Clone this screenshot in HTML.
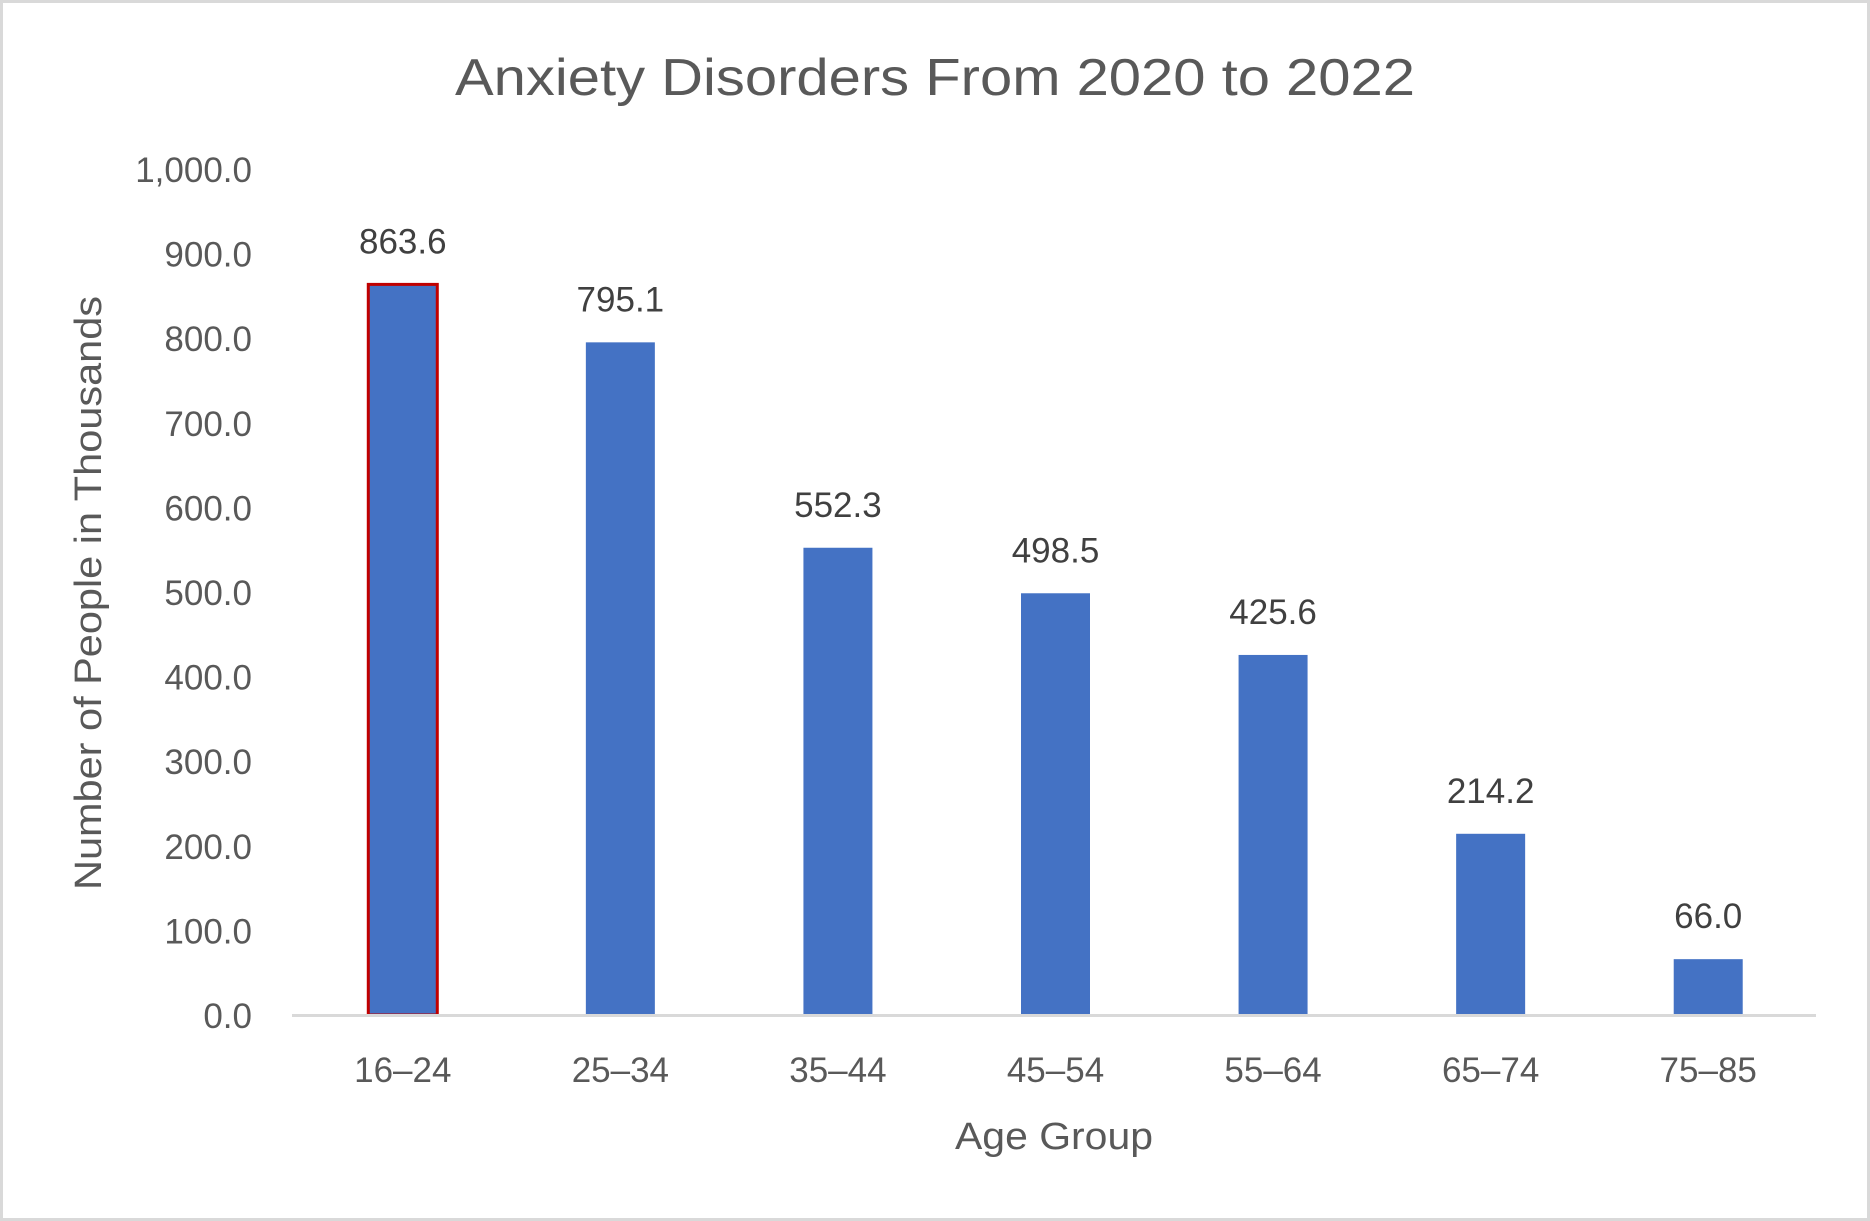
<!DOCTYPE html>
<html><head><meta charset="utf-8"><style>
html,body{margin:0;padding:0;background:#fff}
svg{display:block;font-family:"Liberation Sans",sans-serif}
</style></head><body>
<svg id="chart" width="1870" height="1221" viewBox="0 0 1870 1221" xmlns="http://www.w3.org/2000/svg">
<rect x="1.5" y="1.5" width="1867" height="1218" fill="#fff" stroke="#d9d9d9" stroke-width="3"/>
<text x="935" y="95" text-anchor="middle" font-size="52" fill="#595959" textLength="960" lengthAdjust="spacingAndGlyphs">Anxiety Disorders From 2020 to 2022</text>
<text transform="translate(101,593) rotate(-90)" text-anchor="middle" font-size="38" fill="#595959" textLength="594" lengthAdjust="spacingAndGlyphs">Number of People in Thousands</text>
<text x="1054" y="1149" text-anchor="middle" font-size="38" fill="#595959" textLength="198" lengthAdjust="spacingAndGlyphs">Age Group</text>
<g id="ticks"></g>
<g id="bars"></g>
<line x1="292" y1="1015.5" x2="1816" y2="1015.5" stroke="#d9d9d9" stroke-width="3"/>
</svg>
<script>
const categories=["16–24","25–34","35–44","45–54","55–64","65–74","75–85"];
const values=[863.6,795.1,552.3,498.5,425.6,214.2,66.0];
const yTicks=[0,100,200,300,400,500,600,700,800,900,1000];
const NS="http://www.w3.org/2000/svg";
const x0=294,x1=1817,yBase=1015,yTop=169,yMax=1000;
function yScale(v){return yBase-(v/yMax)*(yBase-yTop);}
function xBand(i){const w=(x1-x0)/categories.length;return x0+w*i+w/2;}
const bw=69;
function fmt(v){return v.toLocaleString("en-US",{minimumFractionDigits:1,maximumFractionDigits:1});}
const tg=document.getElementById("ticks"),bg=document.getElementById("bars");
yTicks.forEach(t=>{
  const e=document.createElementNS(NS,"text");
  
  
  e.setAttribute("x",252);e.setAttribute("y",yScale(t)+13);
  e.setAttribute("text-anchor","end");e.setAttribute("font-size","35");e.setAttribute("fill","#595959");
  e.textContent=fmt(t);tg.appendChild(e);
});
categories.forEach((c,i)=>{
  const cx=xBand(i),v=values[i],y=yScale(v);
  const r=document.createElementNS(NS,"rect");
  
  
  r.setAttribute("x",cx-bw/2);r.setAttribute("y",y);r.setAttribute("width",bw);r.setAttribute("height",yBase-y);
  r.setAttribute("fill","#4472c4");
  if(i===0){r.setAttribute("stroke","#c00000");r.setAttribute("stroke-width","3");}
  bg.appendChild(r);
  const l=document.createElementNS(NS,"text");
  
  
  l.setAttribute("x",cx);l.setAttribute("y",y-31);l.setAttribute("text-anchor","middle");
  l.setAttribute("font-size","35");l.setAttribute("fill","#404040");
  l.textContent=fmt(v);bg.appendChild(l);
  const k=document.createElementNS(NS,"text");
  
  
  k.setAttribute("x",cx);k.setAttribute("y",1082);k.setAttribute("text-anchor","middle");
  k.setAttribute("font-size","35");k.setAttribute("fill","#595959");
  k.textContent=c;bg.appendChild(k);
});
</script>
</body></html>
